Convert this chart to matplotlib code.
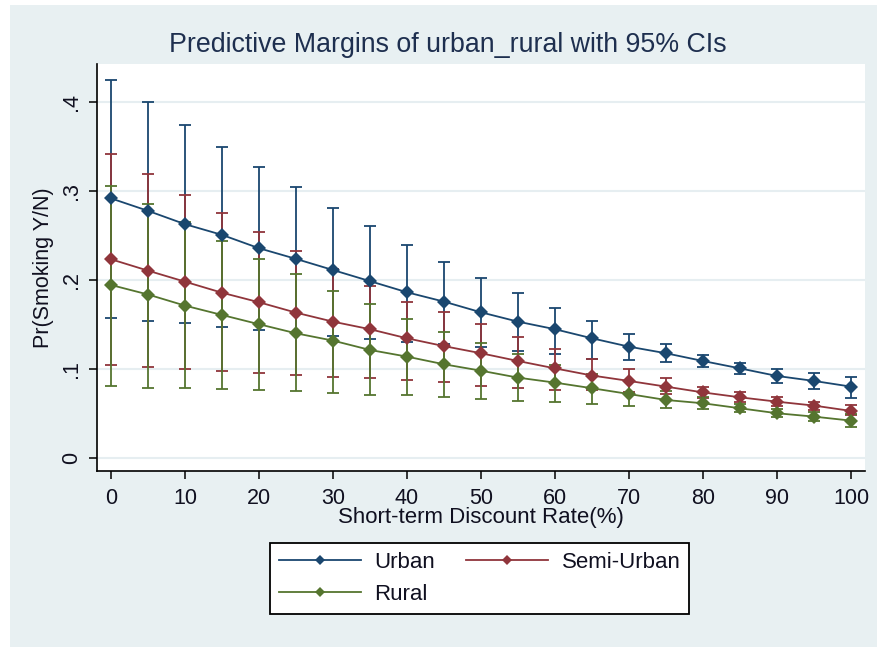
import matplotlib
matplotlib.use("Agg")
import matplotlib.pyplot as plt
from matplotlib.patches import Rectangle
from matplotlib.lines import Line2D
import numpy as np

plt.rcParams['font.family'] = ['Liberation Sans', 'DejaVu Sans']

# Discount rate grid (%)
rate = [0, 5, 10, 15, 20, 25, 30, 35, 40, 45, 50, 55, 60, 65, 70, 75, 80, 85, 90, 95, 100]

# Predictive margins and 95% confidence limits by residence
urban = [0.292, 0.278, 0.263, 0.251, 0.236, 0.224, 0.2115, 0.199, 0.1865, 0.176, 0.164,
         0.1535, 0.145, 0.1348, 0.1254, 0.118, 0.1093, 0.101, 0.0925, 0.0869, 0.0805]
urban_lo = [0.158, 0.154, 0.152, 0.148, 0.144, 0.141, 0.1374, 0.1337, 0.131, 0.128, 0.1247,
            0.1206, 0.1168, 0.112, 0.1105, 0.108, 0.102, 0.095, 0.085, 0.078, 0.0674]
urban_hi = [0.425, 0.400, 0.375, 0.350, 0.327, 0.305, 0.2816, 0.261, 0.2397, 0.221, 0.2022,
            0.1854, 0.1685, 0.154, 0.1397, 0.128, 0.116, 0.107, 0.100, 0.0955, 0.0917]

semi = [0.2236, 0.2108, 0.1984, 0.186, 0.1753, 0.1636, 0.1535, 0.145, 0.1348, 0.126, 0.118,
        0.1093, 0.101, 0.093, 0.0869, 0.0805, 0.074, 0.0685, 0.0636, 0.0592, 0.0532]
semi_lo = [0.1045, 0.1022, 0.100, 0.0977, 0.0958, 0.094, 0.0918, 0.0899, 0.088, 0.0854, 0.0813,
           0.0794, 0.0768, 0.0765, 0.0748, 0.0722, 0.0674, 0.0636, 0.0588, 0.0543, 0.0487]
semi_hi = [0.3416, 0.319, 0.296, 0.2753, 0.254, 0.2333, 0.213, 0.194, 0.176, 0.164, 0.1506,
           0.136, 0.123, 0.111, 0.1003, 0.0899, 0.0805, 0.0748, 0.069, 0.0636, 0.0599]

rural = [0.1947, 0.184, 0.1715, 0.161, 0.1506, 0.1404, 0.1322, 0.1217, 0.1142, 0.1056, 0.0984,
         0.0906, 0.085, 0.0787, 0.0722, 0.0655, 0.0618, 0.0562, 0.0506, 0.0468, 0.0423]
rural_lo = [0.0812, 0.0794, 0.0794, 0.0776, 0.0768, 0.0756, 0.0737, 0.0711, 0.0711, 0.0685, 0.0666,
            0.064, 0.0636, 0.061, 0.0588, 0.0562, 0.055, 0.0517, 0.046, 0.0423, 0.0348]
rural_hi = [0.3063, 0.2857, 0.266, 0.2441, 0.2236, 0.2067, 0.188, 0.173, 0.1565, 0.1416, 0.129,
            0.117, 0.105, 0.095, 0.087, 0.076, 0.069, 0.061, 0.0555, 0.0515, 0.0495]

series_names = ["Urban", "Semi-Urban", "Rural"]
colors = ["#1A476F", "#90353B", "#55752F"]

x_ticks = [0, 10, 20, 30, 40, 50, 60, 70, 80, 90, 100]
y_ticks = [0, 0.1, 0.2, 0.3, 0.4]
y_ticklabels = ["0", ".1", ".2", ".3", ".4"]

bg = "#E8F0F2"
text_color = "#101020"

fig = plt.figure(figsize=(8.78, 6.47), dpi=100)
fig.patch.set_facecolor("white")
fig.add_artist(Rectangle((10 / 878, 0), 1 - 10 / 878, 1 - 5 / 647,
                         transform=fig.transFigure, facecolor=bg,
                         edgecolor="none", zorder=-10))

ax = fig.add_axes([97 / 878, 1 - 471 / 647, (865 - 97) / 878, (471 - 64) / 647])
ax.set_zorder(1)
ax.set_facecolor("white")

data = [
    (urban, urban_lo, urban_hi),
    (semi, semi_lo, semi_hi),
    (rural, rural_lo, rural_hi),
]

# confidence intervals first, then connected margins on top
for (pred, lo, hi), c in zip(data, colors):
    p = np.asarray(pred)
    yerr = [p - np.asarray(lo), np.asarray(hi) - p]
    ax.errorbar(rate, p, yerr=yerr, fmt="none", ecolor=c, elinewidth=1.3,
                capsize=4, capthick=1.3, zorder=2)

for (pred, lo, hi), c in zip(data, colors):
    ax.plot(rate, pred, color=c, lw=1.3, marker="D", ms=7.5,
            markeredgewidth=0, zorder=3)

ax.set_xlim(-1.9, 101.9)
ax.set_ylim(-0.0143, 0.443)

ax.set_xticks(x_ticks)
ax.set_yticks(y_ticks)
ax.set_yticklabels(y_ticklabels, rotation=90, va="center")

ax.grid(axis="y", color="#E6EEF1", lw=1.5, zorder=0)
ax.set_axisbelow(True)

for s in ["top", "right"]:
    ax.spines[s].set_visible(False)
for s in ["left", "bottom"]:
    ax.spines[s].set_color("black")
    ax.spines[s].set_linewidth(1.2)

ax.tick_params(axis="x", length=6, width=1.1, pad=6, labelsize=15.5, colors="black",
               labelcolor=text_color)
ax.tick_params(axis="y", length=6, width=1.1, pad=5, labelsize=15.5, colors="black",
               labelcolor=text_color)

ax.set_xlabel("Short-term Discount Rate(%)", fontsize=16, color=text_color, labelpad=-1)
ax.set_ylabel("Pr(Smoking Y/N)", fontsize=15.5, color=text_color, labelpad=5)

fig.text(447.5 / 878, 1 - 45 / 647, "Predictive Margins of urban_rural with 95% CIs",
         ha="center", va="center", fontsize=19.3, color="#1E2F4F")

# legend filled column-wise: Urban / Rural in the first column, Semi-Urban in the second
handles = [Line2D([0], [0], color=c, lw=1.3, marker="D", ms=5.5, markeredgewidth=0)
           for c in colors]
order = [0, 2, 1]
leg = fig.legend([handles[i] for i in order], [series_names[i] for i in order],
                 ncol=2, loc="center",
                 bbox_to_anchor=(479.5 / 878, 1 - 578.5 / 647),
                 fontsize=16, frameon=True, fancybox=False, framealpha=1,
                 edgecolor="black", handlelength=3.7, handletextpad=0.6,
                 columnspacing=1.4, labelspacing=0.48, borderpad=0.4)
leg.get_frame().set_linewidth(1.3)
for t in leg.get_texts():
    t.set_color(text_color)

fig.savefig("out.png", dpi=100, facecolor=fig.get_facecolor())
